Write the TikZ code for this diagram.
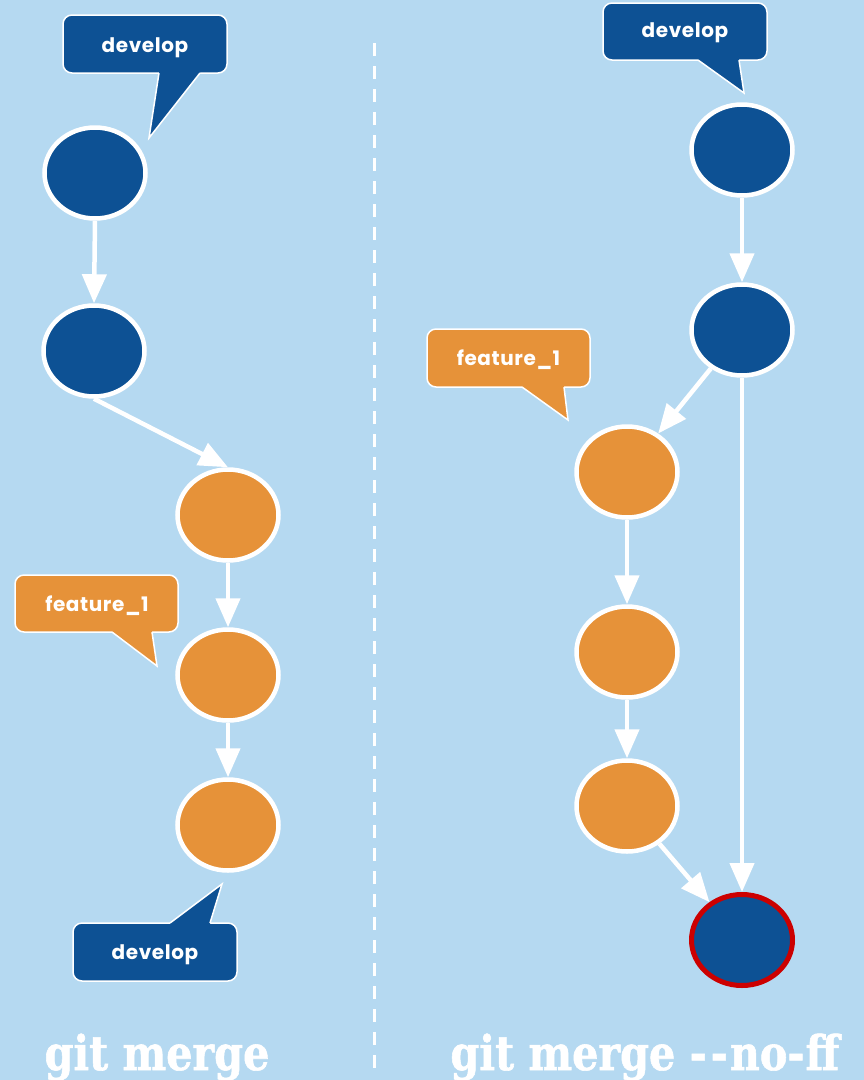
\documentclass[tikz,border=0pt]{standalone}
\usepackage{fontspec}
\usepackage{graphicx}
\usetikzlibrary{arrows.meta,shapes.geometric}

\newfontfamily\tagfont{Poppins}[LetterSpace=3]
\newfontfamily\titlefont{DejaVu Serif}[FakeStretch=0.86, BoldFeatures={FakeBold=1.2}]

\definecolor{bgblue}{HTML}{B5D9F1}
\definecolor{devblue}{HTML}{0D5194}
\definecolor{featorange}{HTML}{E69239}
\definecolor{mergered}{HTML}{CC0000}

% speech bubble: #1 fill, #2/#3 box corners, #4 tail base a, #5 tail tip, #6 tail base b, #7 inward shift
\newcommand\speechbubble[7]{%
  \path[fill=#1, draw=white, line width=1.5pt, rounded corners=9pt] (#2) rectangle (#3);
  \fill[#1] (#4) -- (#5) -- (#6) -- ([yshift=#7]#6) -- ([yshift=#7]#4) -- cycle;
  \draw[white, line width=1.5pt, line join=miter] (#4) -- (#5) -- (#6);
}

\begin{document}
\begin{tikzpicture}[x=1pt, y=-1pt,
  commit/.style={ellipse, draw=white, line width=4.5pt, minimum width=101pt,
    minimum height=91pt, inner sep=0pt},
  dev/.style={commit, fill=devblue},
  feat/.style={commit, fill=featorange},
  merged/.style={commit, fill=devblue, draw=mergered, line width=5pt},
  link/.style={draw=white, line width=4.5pt, -{Triangle[length=29pt,width=24pt]}},
  tagtext/.style={text=white, anchor=base, inner sep=0pt,
    font=\tagfont\bfseries\fontsize{20}{22}\selectfont},
  title/.style={text=white, anchor=base, inner sep=0pt,
    font=\titlefont\bfseries\fontsize{48}{52}\selectfont}
]
\fill[bgblue] (0,0) rectangle (864,1080);
\useasboundingbox (0,0) rectangle (864,1080);
\clip (0,0) rectangle (864,1080);

% separator
\draw[white, line width=3pt, dash pattern=on 13pt off 10pt] (374,43) -- (374,1072);

% fast-forward merge
\node[dev]  (l1) at (95,173) {};
\node[dev]  (l2) at (94,351) {};
\node[feat] (l3) at (228,515) {};
\node[feat] (l4) at (228,675) {};
\node[feat] (l5) at (228,825) {};

\draw[link] (l1.south) -- (l2.north);
\draw[link] (l2.south) -- (l3.north);
\draw[link] (l3.south) -- (l4.north);
\draw[link] (l4.south) -- (l5.north);

% no-ff merge
\node[dev]    (r1) at (742,150) {};
\node[dev]    (r2) at (742,330) {};
\node[feat]   (r3) at (627,472) {};
\node[feat]   (r4) at (627,652) {};
\node[feat]   (r5) at (627,806) {};
\node[merged] (r6) at (742,940) {};

\draw[link] (r1.south) -- (r2.north);
\draw[link] (r2) -- (r3);
\draw[link] (r2.south) -- (r6.north);
\draw[link] (r3.south) -- (r4.north);
\draw[link] (r4.south) -- (r5.north);
\draw[link] (r5) -- (r6);

% branch labels
\speechbubble{devblue}{63,15}{227,73}{159,73}{149,138}{200,73}{3pt}
\node[tagtext] (tagdevA) at (145,52) {develop};

\speechbubble{featorange}{15,575}{178,632}{112,632}{157,666}{152,632}{3pt}
\node[tagtext] (tagfeatA) at (97,611) {feature\_1};

\speechbubble{devblue}{73,923}{237,981}{170,923}{222,884}{210,923}{-3pt}
\node[tagtext] (tagdevB) at (155,959) {develop};

\speechbubble{devblue}{603,3}{767,60}{698,60}{744,93}{739,60}{3pt}
\node[tagtext] (tagdevC) at (685,37) {develop};

\speechbubble{featorange}{427,329}{590,387}{522,387}{568,420}{564,387}{3pt}
\node[tagtext] (tagfeatB) at (508.5,365) {feature\_1};

% captions
\node[title] (capA) at (157,1070) {git merge};
\node[title] (capB) at (645,1070) {git merge -\kern4pt-\kern2pt no-\kern1pt ff};
\end{tikzpicture}
\end{document}
